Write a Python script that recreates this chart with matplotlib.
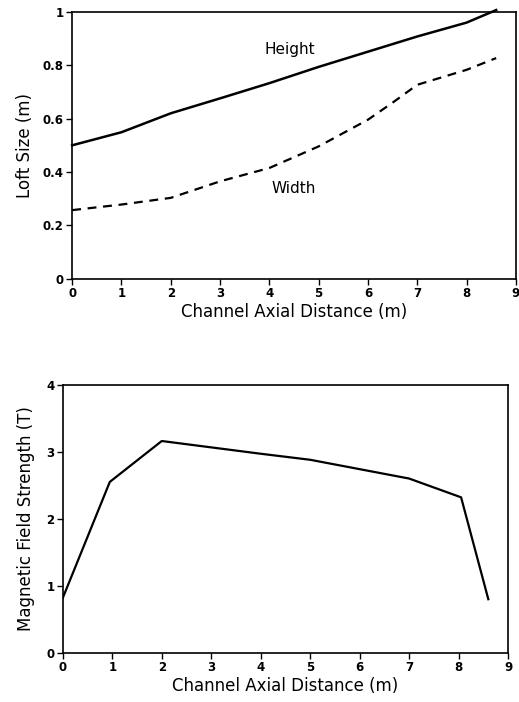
import matplotlib
matplotlib.use('Agg')
import matplotlib.pyplot as plt

# loft size vs. axial distance
loft_x = [0, 1, 2, 3, 4, 5, 6, 7, 8, 8.6]
loft_height = [0.50, 0.549, 0.62, 0.676, 0.733, 0.794, 0.851, 0.908, 0.96, 1.007]
width_x = [0, 1, 2, 3, 4, 5, 6, 6.5, 7, 8, 8.6]
loft_width = [0.257, 0.278, 0.303, 0.365, 0.415, 0.496, 0.596, 0.66, 0.727, 0.783, 0.827]

# magnetic field vs. axial distance
field_x = [0, 0.95, 2, 4, 5, 6, 7, 8.05, 8.6]
field_b = [0.82, 2.55, 3.16, 2.97, 2.88, 2.74, 2.60, 2.32, 0.80]

xticks = [0, 1, 2, 3, 4, 5, 6, 7, 8, 9]
loft_yticks = [0, 0.2, 0.4, 0.6, 0.8, 1]
loft_ylabels = ['0', '0.2', '0.4', '0.6', '0.8', '1']
field_yticks = [0, 1, 2, 3, 4]

plt.rcParams['font.family'] = 'DejaVu Sans'

fig = plt.figure(figsize=(5.19, 7.02), dpi=100, facecolor='white')

ax1 = fig.add_axes([0.139, 0.603, 0.855, 0.380])
ax1.plot(loft_x, loft_height, color='black', lw=1.8, clip_on=False)
ax1.plot(width_x, loft_width, color='black', lw=1.6, ls=(0, (4, 3)))
ax1.set_xlim(0, 9)
ax1.set_ylim(0, 1)
ax1.set_xticks(xticks)
ax1.set_yticks(loft_yticks)
ax1.set_yticklabels(loft_ylabels)
ax1.set_xlabel('Channel Axial Distance (m)', fontsize=12, labelpad=2)
ax1.set_ylabel('Loft Size (m)', fontsize=12, labelpad=6)
ax1.text(4.42, 0.86, 'Height', fontsize=11, ha='center', va='center')
ax1.text(4.49, 0.337, 'Width', fontsize=11, ha='center', va='center')

ax2 = fig.add_axes([0.121, 0.070, 0.858, 0.382])
ax2.plot(field_x, field_b, color='black', lw=1.6)
ax2.set_xlim(0, 9)
ax2.set_ylim(0, 4)
ax2.set_xticks(xticks)
ax2.set_yticks(field_yticks)
ax2.set_xlabel('Channel Axial Distance (m)', fontsize=12, labelpad=2)
ax2.set_ylabel('Magnetic Field Strength (T)', fontsize=12, labelpad=8)

for ax in (ax1, ax2):
    ax.tick_params(direction='out', length=4, width=1, labelsize=8.5, pad=2)
    for lbl in ax.get_xticklabels() + ax.get_yticklabels():
        lbl.set_fontweight('bold')
    for sp in ax.spines.values():
        sp.set_linewidth(1.2)

fig.savefig('out.png', dpi=100, facecolor='white')
